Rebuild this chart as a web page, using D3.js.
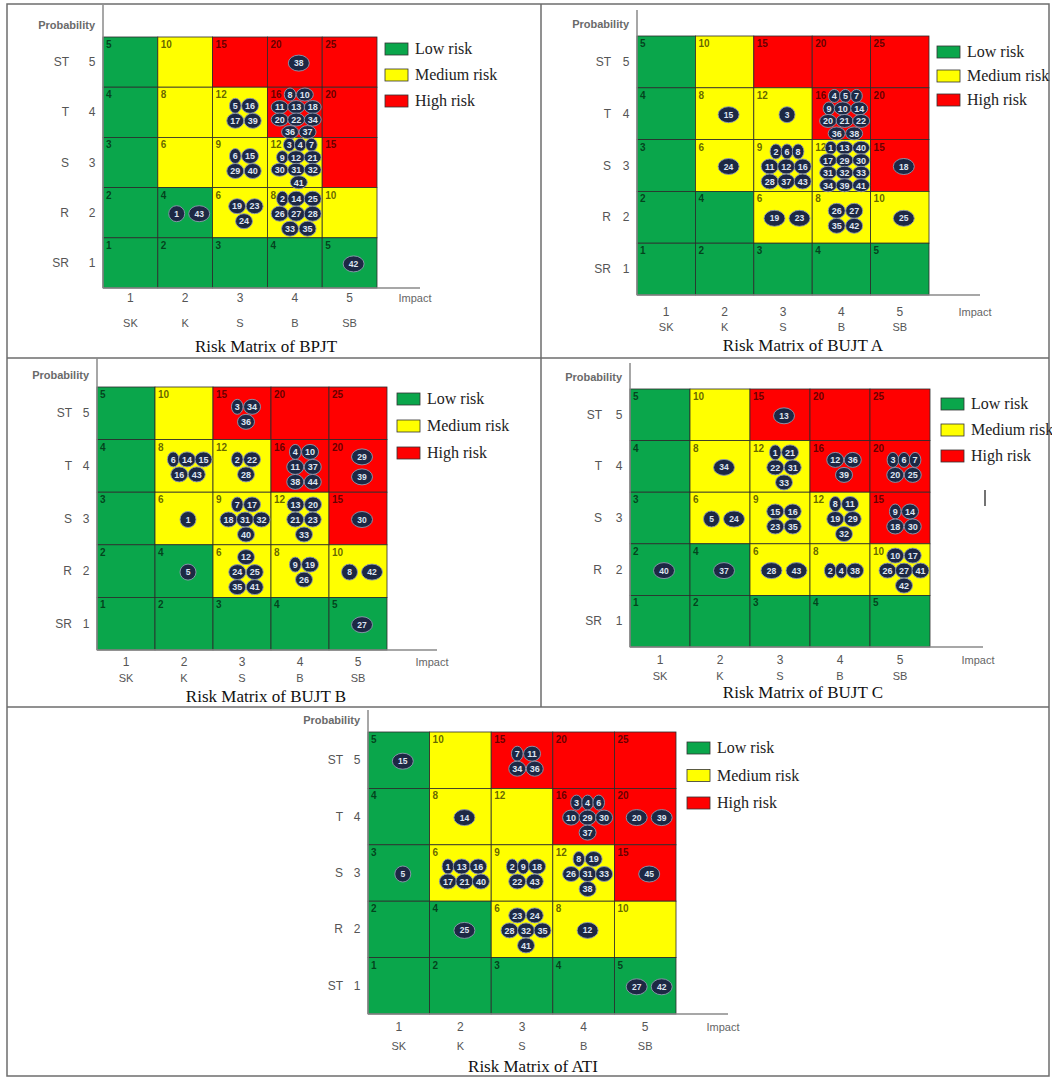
<!DOCTYPE html>
<html>
<head>
<meta charset="utf-8">
<script src="https://cdn.jsdelivr.net/npm/d3@7"></script>
<style>
	body { margin: 0; background: #fff; }
	svg { display: block; }
	.sans { font-family: 'Liberation Sans Narrow', 'Liberation Sans', Arial, sans-serif; }
	.serif { font-family: 'Liberation Serif', 'Times New Roman', serif; }
</style>
</head>
<body>
<svg id="chart" width="1052" height="1078"></svg>
<script>
// -- data --//
const impactTicks = ['1', '2', '3', '4', '5'];
const impactLabels = ['SK', 'K', 'S', 'B', 'SB'];
const probTicks = [5, 4, 3, 2, 1];
const probLabels = ['ST', 'T', 'S', 'R', 'SR'];
const probLabelsATI = ['ST', 'T', 'S', 'R', 'ST'];
const riskLevels = ['Low risk', 'Medium risk', 'High risk'];
const riskColors = ['#0aa64b', '#ffff00', '#ff0000'];

// risk ids per cell: impact, probability, ids grouped by visual row
const bpjtRisks = [
	{ impact: 4, prob: 5, ids: [[38]] },
	{ impact: 3, prob: 4, ids: [[5, 16], [17, 39]] },
	{ impact: 4, prob: 4, ids: [[8, 10], [11, 13, 18], [20, 22, 34], [36, 37]] },
	{ impact: 3, prob: 3, ids: [[6, 15], [29, 40]] },
	{ impact: 4, prob: 3, ids: [[3, 4, 7], [9, 12, 21], [30, 31, 32], [41]] },
	{ impact: 2, prob: 2, ids: [[1, 43]] },
	{ impact: 3, prob: 2, ids: [[19, 23], [24]] },
	{ impact: 4, prob: 2, ids: [[2, 14, 25], [26, 27, 28], [33, 35]] },
	{ impact: 5, prob: 1, ids: [[42]] }
];
const bujtARisks = [
	{ impact: 2, prob: 4, ids: [[15]] },
	{ impact: 3, prob: 4, ids: [[3]] },
	{ impact: 4, prob: 4, ids: [[4, 5, 7], [9, 10, 14], [20, 21, 22], [36, 38]] },
	{ impact: 2, prob: 3, ids: [[24]] },
	{ impact: 3, prob: 3, ids: [[2, 6, 8], [11, 12, 16], [28, 37, 43]] },
	{ impact: 4, prob: 3, ids: [[1, 13, 40], [17, 29, 30], [31, 32, 33], [34, 39, 41]] },
	{ impact: 5, prob: 3, ids: [[18]] },
	{ impact: 3, prob: 2, ids: [[19, 23]] },
	{ impact: 4, prob: 2, ids: [[26, 27], [35, 42]] },
	{ impact: 5, prob: 2, ids: [[25]] }
];
const bujtBRisks = [
	{ impact: 3, prob: 5, ids: [[3, 34], [36]] },
	{ impact: 2, prob: 4, ids: [[6, 14, 15], [16, 43]] },
	{ impact: 3, prob: 4, ids: [[2, 22], [28]] },
	{ impact: 4, prob: 4, ids: [[4, 10], [11, 37], [38, 44]] },
	{ impact: 5, prob: 4, ids: [[29], [39]] },
	{ impact: 2, prob: 3, ids: [[1]] },
	{ impact: 3, prob: 3, ids: [[7, 17], [18, 31, 32], [40]] },
	{ impact: 4, prob: 3, ids: [[13, 20], [21, 23], [33]] },
	{ impact: 5, prob: 3, ids: [[30]] },
	{ impact: 2, prob: 2, ids: [[5]] },
	{ impact: 3, prob: 2, ids: [[12], [24, 25], [35, 41]] },
	{ impact: 4, prob: 2, ids: [[9, 19], [26]] },
	{ impact: 5, prob: 2, ids: [[8, 42]] },
	{ impact: 5, prob: 1, ids: [[27]] }
];
const bujtCRisks = [
	{ impact: 3, prob: 5, ids: [[13]] },
	{ impact: 2, prob: 4, ids: [[34]] },
	{ impact: 3, prob: 4, ids: [[1, 21], [22, 31], [33]] },
	{ impact: 4, prob: 4, ids: [[12, 36], [39]] },
	{ impact: 5, prob: 4, ids: [[3, 6, 7], [20, 25]] },
	{ impact: 2, prob: 3, ids: [[5, 24]] },
	{ impact: 3, prob: 3, ids: [[15, 16], [23, 35]] },
	{ impact: 4, prob: 3, ids: [[8, 11], [19, 29], [32]] },
	{ impact: 5, prob: 3, ids: [[9, 14], [18, 30]] },
	{ impact: 1, prob: 2, ids: [[40]] },
	{ impact: 2, prob: 2, ids: [[37]] },
	{ impact: 3, prob: 2, ids: [[28, 43]] },
	{ impact: 4, prob: 2, ids: [[2, 4, 38]] },
	{ impact: 5, prob: 2, ids: [[10, 17], [26, 27, 41], [42]] }
];
const atiRisks = [
	{ impact: 1, prob: 5, ids: [[15]] },
	{ impact: 3, prob: 5, ids: [[7, 11], [34, 36]] },
	{ impact: 2, prob: 4, ids: [[14]] },
	{ impact: 4, prob: 4, ids: [[3, 4, 6], [10, 29, 30], [37]] },
	{ impact: 5, prob: 4, ids: [[20, 39]] },
	{ impact: 1, prob: 3, ids: [[5]] },
	{ impact: 2, prob: 3, ids: [[1, 13, 16], [17, 21, 40]] },
	{ impact: 3, prob: 3, ids: [[2, 9, 18], [22, 43]] },
	{ impact: 4, prob: 3, ids: [[8, 19], [26, 31, 33], [38]] },
	{ impact: 5, prob: 3, ids: [[45]] },
	{ impact: 2, prob: 2, ids: [[25]] },
	{ impact: 3, prob: 2, ids: [[23, 24], [28, 32, 35], [41]] },
	{ impact: 4, prob: 2, ids: [[12]] },
	{ impact: 5, prob: 1, ids: [[27, 42]] }
];

//-- layout --//
const panels = [
	{ title: 'Risk Matrix of BPJT', risks: bpjtRisks, rowLabels: probLabels,
		x0: 103, x1: 377, y0: 37, y1: 288, axisTop: 5, axisEnd: 420, lblDx: -34, tickDy: [10, 35],
		titleX: 266, titleY: 347, legX: 385, legY: 49, legStep: 26 },
	{ title: 'Risk Matrix of BUJT A', risks: bujtARisks, rowLabels: probLabels,
		x0: 637, x1: 929, y0: 36, y1: 295, axisTop: 10, axisEnd: 980, lblDx: -26, tickDy: [17, 32],
		titleX: 803, titleY: 346, legX: 937, legY: 52, legStep: 24 },
	{ title: 'Risk Matrix of BUJT B', risks: bujtBRisks, rowLabels: probLabels,
		x0: 97, x1: 387, y0: 387, y1: 650, axisTop: 358, axisEnd: 437, lblDx: -25, tickDy: [12, 28],
		titleX: 266, titleY: 697, legX: 397, legY: 399, legStep: 27 },
	{ title: 'Risk Matrix of BUJT C', risks: bujtCRisks, rowLabels: probLabels,
		x0: 630, x1: 930, y0: 389, y1: 647, axisTop: 363, axisEnd: 983, lblDx: -28, tickDy: [13, 29],
		titleX: 803, titleY: 693, legX: 941, legY: 404, legStep: 26 },
	{ title: 'Risk Matrix of ATI', risks: atiRisks, rowLabels: probLabelsATI,
		x0: 368, x1: 676, y0: 732, y1: 1014, axisTop: 710, axisEnd: 728, lblDx: -25, tickDy: [13, 32],
		titleX: 533, titleY: 1067, legX: 687, legY: 748, legStep: 27.5 }
];

const svg = d3.select('#chart');

// frame of the figure table
const frame = svg.append('g')
	.attr('stroke', '#6d6d6d')
	.attr('stroke-width', 1.5)
	.attr('fill', 'none');
frame.append('rect').attr('x', 7).attr('y', 4).attr('width', 1042).attr('height', 1072);
frame.append('line').attr('x1', 7).attr('x2', 1049).attr('y1', 358).attr('y2', 358);
frame.append('line').attr('x1', 7).attr('x2', 1049).attr('y1', 707).attr('y2', 707);
frame.append('line').attr('x1', 541).attr('x2', 541).attr('y1', 4).attr('y2', 707);

// stray cursor mark seen in BUJT C panel
svg.append('line')
	.attr('x1', 985).attr('x2', 985)
	.attr('y1', 490).attr('y2', 506)
	.attr('stroke', '#444')
	.attr('stroke-width', 1.5);

function riskLevel(score) {
	if (score <= 5) return 0;
	if (score <= 12) return 1;
	return 2;
}

panels.forEach(drawPanel);

function drawPanel(p) {
	const g = svg.append('g');
	const x = d3.scaleBand().domain(impactTicks).range([p.x0, p.x1]);
	const y = d3.scaleBand().domain(probTicks).range([p.y0, p.y1]);
	const cells = [];

	probTicks.forEach(function(pr) {
		impactTicks.forEach(function(im) {
			cells.push({ impact: im, prob: pr, score: (+im) * pr });
		});
	});

	// cells
	g.selectAll('rect.cell')
		.data(cells)
		.join('rect')
		.attr('class', 'cell')
		.attr('x', d => x(d.impact))
		.attr('y', d => y(d.prob))
		.attr('width', x.bandwidth())
		.attr('height', y.bandwidth())
		.attr('fill', d => riskColors[riskLevel(d.score)])
		.attr('stroke', '#2b2b2b')
		.attr('stroke-width', 0.8);

	g.selectAll('text.score')
		.data(cells)
		.join('text')
		.attr('class', 'sans')
		.attr('x', d => x(d.impact) + 3)
		.attr('y', d => y(d.prob) + 11)
		.attr('font-size', 10)
		.attr('font-weight', 'bold')
		.attr('fill', 'rgba(0,0,0,0.62)')
		.text(d => d.score);

	// axis lines
	g.append('line')
		.attr('x1', p.x0).attr('x2', p.x0)
		.attr('y1', p.axisTop).attr('y2', p.y1)
		.attr('stroke', '#8a8a8a').attr('stroke-width', 1.5);
	g.append('line')
		.attr('x1', p.x0).attr('x2', p.axisEnd)
		.attr('y1', p.y1).attr('y2', p.y1)
		.attr('stroke', '#8a8a8a').attr('stroke-width', 1.5);

	// axis texts
	g.append('text')
		.attr('class', 'sans')
		.attr('x', p.x0 - 8)
		.attr('y', p.y0 - 8)
		.attr('text-anchor', 'end')
		.attr('font-size', 11)
		.attr('font-weight', 'bold')
		.attr('fill', '#6a6a6a')
		.text('Probability');

	g.selectAll('text.plab')
		.data(probTicks)
		.join('text')
		.attr('class', 'sans')
		.attr('x', p.x0 + p.lblDx)
		.attr('y', d => y(d) + y.bandwidth() / 2 + 4)
		.attr('text-anchor', 'end')
		.attr('font-size', 12)
		.attr('fill', '#555')
		.text((d, i) => p.rowLabels[i]);

	g.selectAll('text.pnum')
		.data(probTicks)
		.join('text')
		.attr('class', 'sans')
		.attr('x', p.x0 - 11)
		.attr('y', d => y(d) + y.bandwidth() / 2 + 4)
		.attr('text-anchor', 'middle')
		.attr('font-size', 12)
		.attr('fill', '#555')
		.text(d => d);

	g.selectAll('text.inum')
		.data(impactTicks)
		.join('text')
		.attr('class', 'sans')
		.attr('x', d => x(d) + x.bandwidth() / 2)
		.attr('y', p.y1 + p.tickDy[0] + 4)
		.attr('text-anchor', 'middle')
		.attr('font-size', 12)
		.attr('fill', '#555')
		.text(d => d);

	g.selectAll('text.ilab')
		.data(impactTicks)
		.join('text')
		.attr('class', 'sans')
		.attr('x', d => x(d) + x.bandwidth() / 2)
		.attr('y', p.y1 + p.tickDy[1] + 4)
		.attr('text-anchor', 'middle')
		.attr('font-size', 11)
		.attr('fill', '#555')
		.text((d, i) => impactLabels[i]);

	g.append('text')
		.attr('class', 'sans')
		.attr('x', p.axisEnd - 5)
		.attr('y', p.y1 + p.tickDy[0] + 4)
		.attr('text-anchor', 'middle')
		.attr('font-size', 11)
		.attr('fill', '#666')
		.text('Impact');

	g.append('text')
		.attr('class', 'serif')
		.attr('x', p.titleX)
		.attr('y', p.titleY + 5)
		.attr('text-anchor', 'middle')
		.attr('font-size', 17)
		.attr('fill', '#111')
		.text(p.title);

	// legend
	const leg = g.selectAll('g.leg')
		.data(riskLevels)
		.join('g')
		.attr('transform', (d, i) => 'translate(' + p.legX + ',' + (p.legY + i * p.legStep) + ')');
	leg.append('rect')
		.attr('x', 0).attr('y', -6)
		.attr('width', 23).attr('height', 12)
		.attr('fill', (d, i) => riskColors[i])
		.attr('stroke', '#333')
		.attr('stroke-width', 0.8);
	leg.append('text')
		.attr('class', 'serif')
		.attr('x', 30)
		.attr('y', 5)
		.attr('font-size', 16)
		.attr('fill', '#222')
		.text(d => d);

	// bubbles: each row is packed by bubble width and centred in the cell;
	// a row that would cover the cell's score label is pushed right
	const bubbles = [];
	const bubbleRx = (big, id) => big ? (id > 9 ? 10.5 : 8) : (id > 9 ? 8.5 : 5.8);
	p.risks.forEach(function(r) {
		const total = d3.sum(r.ids, row => row.length);
		const nRows = r.ids.length;
		const big = total <= 2;
		const dy = nRows >= 4 ? 12.5 : (big ? 20 : 15);
		const cellX = x(String(r.impact));
		const cellY = y(r.prob);
		const cellR = cellX + x.bandwidth();
		const cx = cellX + x.bandwidth() / 2 + 4;
		const cy = cellY + y.bandwidth() / 2 + 1;
		const ry = big ? 8 : (nRows >= 4 ? 6.5 : 7.5);
		r.ids.forEach(function(row, ri) {
			const rowY = cy + (ri - (nRows - 1) / 2) * dy;
			const gap = big ? 4 : (row.length >= 3 ? -0.5 : 0.5);
			const widths = row.map(id => 2 * bubbleRx(big, id));
			const rowW = d3.sum(widths) + gap * (row.length - 1);
			let left = cx - rowW / 2;
			if (rowY - ry < cellY + 13) left = Math.max(left, cellX + 16);
			left = Math.min(left, cellR - 1 - rowW);
			row.forEach(function(id, ci) {
				const rx = widths[ci] / 2;
				bubbles.push({
					id: id,
					cx: left + rx,
					cy: rowY,
					rx: rx,
					ry: ry,
					fs: big ? 8.5 : 9
				});
				left += widths[ci] + gap;
			});
		});
	});

	const b = g.selectAll('g.bub')
		.data(bubbles)
		.join('g')
		.attr('transform', d => 'translate(' + d.cx + ',' + d.cy + ')');
	b.append('ellipse')
		.attr('rx', d => d.rx)
		.attr('ry', d => d.ry)
		.attr('fill', '#1d2844')
		.attr('stroke', '#8e9ab0')
		.attr('stroke-width', 0.9);
	b.append('text')
		.attr('class', 'sans')
		.attr('y', d => d.fs * 0.36)
		.attr('text-anchor', 'middle')
		.attr('font-size', d => d.fs)
		.attr('font-weight', 'bold')
		.attr('fill', '#dde4f0')
		.text(d => d.id);
}
</script>
</body>
</html>
